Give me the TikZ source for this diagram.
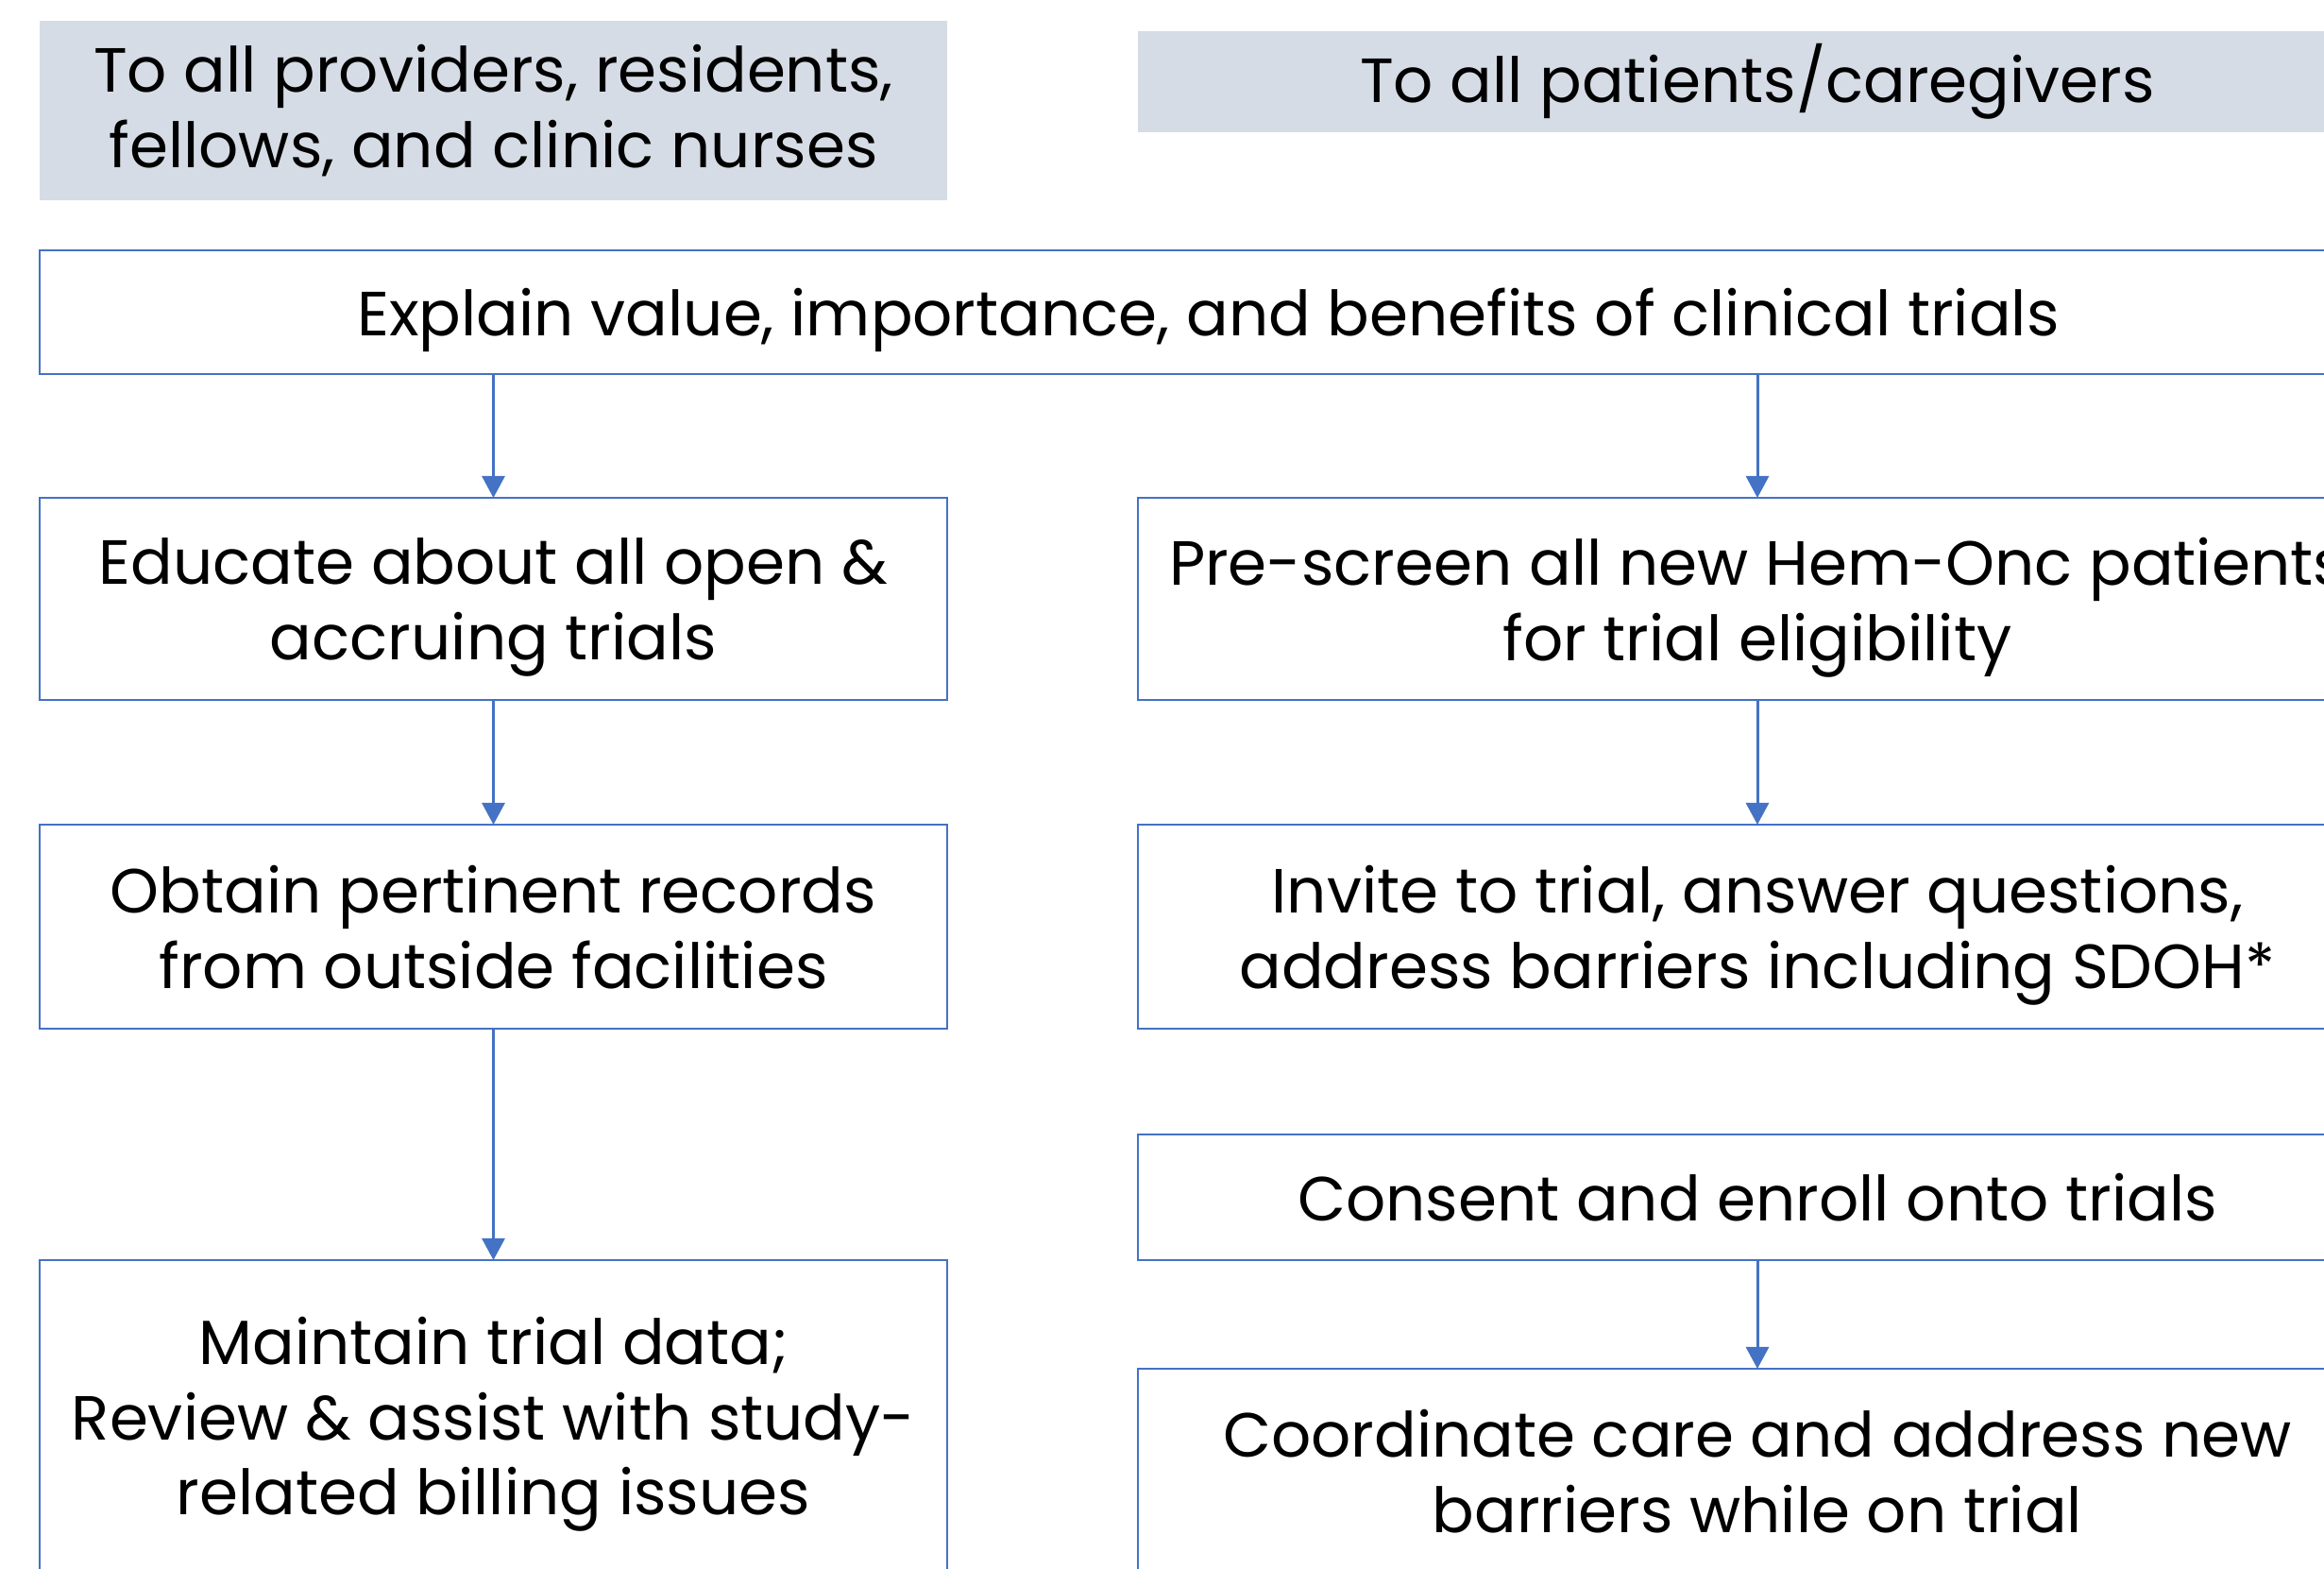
\documentclass[tikz,border=0pt]{standalone}
\usepackage{xcolor}
\usepackage{fontspec}
\setmainfont{Poppins}
\usetikzlibrary{arrows.meta, positioning}

\definecolor{hdrgray}{HTML}{D6DCE5}
\definecolor{flowblue}{HTML}{4472C4}

\begin{document}
\begin{tikzpicture}[
    header/.style={rectangle, fill=hdrgray, inner sep=0pt, outer sep=0pt, align=center, font=\fontsize{18.8pt}{22.7pt}\selectfont},
    process/.style={rectangle, draw=flowblue, line width=0.55pt, inner sep=0pt, outer sep=0pt, text depth=0pt, align=center, font=\fontsize{18.8pt}{22.7pt}\selectfont},
    leftcol/.style={minimum width=9.61cm},
    rightcol/.style={minimum width=13.12cm},
    arr/.style={-{Triangle[length=0.23cm, width=0.24cm]}, draw=flowblue, fill=flowblue, line width=0.85pt},
]
    \useasboundingbox (0,0) rectangle (24.61,-16.61);

    % audience headers
    \node[header, leftcol, minimum height=1.90cm] (staff) at (5.225,-1.17) {To all providers, residents,\\fellows, and clinic nurses};
    \node[header, rightcol, minimum height=1.07cm] (patients) at (18.61,-0.865) {To all patients/caregivers};

    % shared first step
    \node[process, minimum width=24.75cm, minimum height=1.31cm] (explain) at (12.795,-3.305) {Explain value, importance, and benefits of clinical trials};

    % staff column
    \node[process, leftcol, minimum height=2.14cm] (educate) at (5.225,-6.34) {Educate about all open \&\\accruing trials};
    \node[process, leftcol, minimum height=2.16cm] (records) at (5.225,-9.81) {Obtain pertinent records\\from outside facilities};
    \node[process, leftcol, minimum height=3.30cm] (billing) at (5.225,-14.99) {Maintain trial data;\\Review \& assist with study-\\related billing issues};

    % patient column
    \node[process, rightcol, minimum height=2.14cm] (prescreen) at (18.61,-6.34) {Pre-screen all new Hem-Onc patients\\for trial eligibility};
    \node[process, rightcol, minimum height=2.16cm] (invite) at (18.61,-9.81) {Invite to trial, answer questions,\\address barriers including SDOH*};
    \node[process, rightcol, minimum height=1.33cm] (consent) at (18.61,-12.675) {Consent and enroll onto trials};
    \node[process, rightcol, minimum height=2.16cm] (coordinate) at (18.61,-15.57) {Coordinate care and address new\\barriers while on trial};

    \draw[arr] (explain.south -| educate.north) -- (educate.north);
    \draw[arr] (explain.south -| prescreen.north) -- (prescreen.north);
    \draw[arr] (educate) -- (records);
    \draw[arr] (records) -- (billing);
    \draw[arr] (prescreen) -- (invite);
    \draw[arr] (consent) -- (coordinate);
\end{tikzpicture}
\end{document}
